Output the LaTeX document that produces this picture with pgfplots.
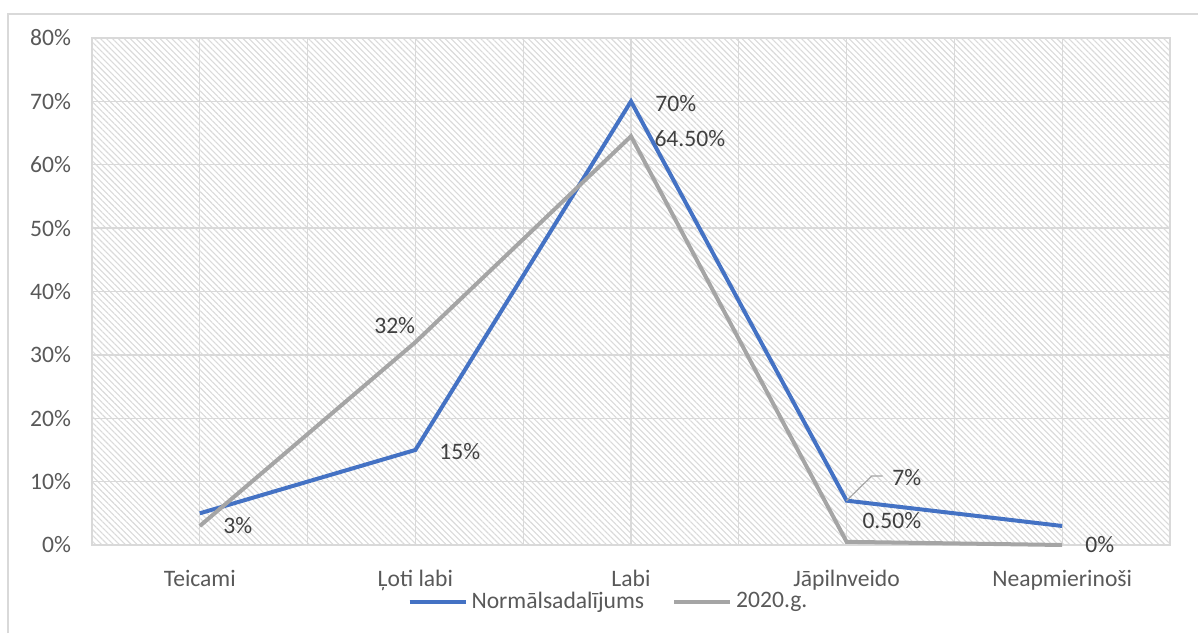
\documentclass[border=0pt]{standalone}
\usepackage{pgfplots}
\pgfplotsset{compat=1.18}
\usepackage{fontspec}
\setmainfont{Carlito}
\usetikzlibrary{patterns.meta}
\definecolor{cblue}{HTML}{4472C4}
\definecolor{cgray}{HTML}{A5A5A5}
\definecolor{gridc}{HTML}{D9D9D9}
\definecolor{hatchc}{HTML}{DADADA}
\definecolor{tickc}{HTML}{595959}
\definecolor{labc}{HTML}{404040}
\newcommand{\fs}{\fontsize{11.8}{13}\selectfont}
\begin{document}
\begin{tikzpicture}
\useasboundingbox (0,0) rectangle (599pt,316.5pt);
\draw[gridc, line width=0.7pt] (4pt,0) -- (4pt,309.5pt) -- (599pt,309.5pt);
\begin{axis}[
  at={(46pt,44pt)}, anchor=south west,
  scale only axis, width=539pt, height=253.5pt,
  xmin=-0.5, xmax=4.5, ymin=0, ymax=80,
  xtick={0,1,2,3,4},
  xticklabels={Teicami, Ļoti labi, Labi, Jāpilnveido, Neapmierinoši},
  minor xtick={-0.5,0.5,1.5,2.5,3.5,4.5},
  ytick={0,10,...,80},
  yticklabels={0\%,10\%,20\%,30\%,40\%,50\%,60\%,70\%,80\%},
  xmajorgrids, xminorgrids, ymajorgrids,
  grid style={gridc, line width=0.65pt},
  minor grid style={gridc, line width=0.65pt},
  axis line style={gridc, line width=0.65pt},
  major tick length=0pt, minor tick length=0pt,
  tick label style={font=\fs, text=tickc},
  xticklabel style={yshift=-9pt},
  yticklabel style={xshift=-7pt},
  axis background/.style={pattern={Lines[angle=-45,distance=2.1pt,line width=0.55pt]}, pattern color=hatchc},
  legend style={draw=none, fill=none, font=\fs, text=tickc, legend columns=2,
    at={(0.480,-0.112)}, anchor=center,
    /tikz/every even column/.append style={column sep=12pt}},
  legend cell align=left,
  legend image code/.code={\draw[#1] (0pt,0pt) -- (28pt,0pt);},
  clip=false,
]
\addplot[cblue, line width=2pt, line join=miter] coordinates {(0,5) (1,15) (2,70) (3,7) (4,3)};
\addlegendentry{Normālsadalījums}
\addplot[cgray, line width=2pt, line join=miter] coordinates {(0,3) (1,32) (2,64.5) (3,0.5) (4,0)};
\addlegendentry{2020.g.}
\draw[cgray, line width=0.6pt] (axis cs:3,7) -- (axis cs:3.117,10.9) -- (axis cs:3.167,10.9);
\begin{scope}[every node/.style={font=\fs, text=labc, inner sep=0pt}]
\node at (axis cs:0.176,3.0) {3\%};
\node at (axis cs:0.904,34.6) {32\%};
\node at (axis cs:1.206,14.7) {15\%};
\node at (axis cs:2.208,69.7) {70\%};
\node at (axis cs:2.273,64.2) {64.50\%};
\node at (axis cs:3.279,10.57) {7\%};
\node at (axis cs:3.210,3.79) {0.50\%};
\node at (axis cs:4.174,0) {0\%};
\end{scope}
\end{axis}
\end{tikzpicture}
\end{document}
